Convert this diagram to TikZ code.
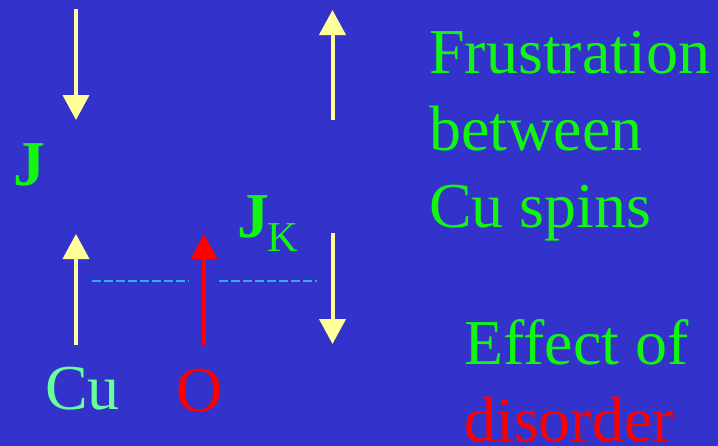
\documentclass[tikz,border=0pt]{standalone}
\usepackage{fontspec}
\setmainfont{Liberation Serif}
\usetikzlibrary{arrows.meta}
\definecolor{slideblue}{RGB}{51,51,204}
\definecolor{labelgreen}{RGB}{17,245,17}
\definecolor{cugreen}{RGB}{102,255,153}
\definecolor{spinyellow}{RGB}{255,255,153}
\definecolor{bondcyan}{RGB}{51,170,238}

\begin{document}
\begin{tikzpicture}[x=0.75pt,y=-0.75pt, line join=round,
  spin/.style={line width=3pt,spinyellow,-{Triangle[width=19.5pt,length=18.75pt]}},
  bond/.style={line width=1.5pt,bondcyan,dash pattern=on 6.75pt off 2.25pt},
  big/.style={anchor=base west,inner sep=0pt,font=\fontsize{48}{57.75}\selectfont}]
% slide background
\useasboundingbox (0,0) rectangle (718,446);
\fill[slideblue] (0,0) rectangle (718,446);
% spin sites
\coordinate (cuA) at (76,345);
\coordinate (cuB) at (332.5,233);
\coordinate (ox)  at (204,345);
\coordinate (cuC) at (76,9);
\coordinate (cuD) at (332.5,120);
% upper pair of Cu spins
\draw[spin] (cuC) -- ++(0,111);
\draw[spin] (cuD) -- ++(0,-110);
% lower Cu - O - Cu chain
\draw[spin] (cuA) -- ++(0,-111);
\draw[spin,red] (ox) -- ++(0,-111);
\draw[spin] (cuB) -- ++(0,111);
\coordinate (bA) at (92,281);
\coordinate (bB) at (189,281);
\coordinate (bC) at (219,281);
\coordinate (bD) at (317,281);
\draw[bond] (bA) -- (bB);
\draw[bond] (bC) -- (bD);
% couplings and atoms
\node[big,labelgreen] (jnode) at (13,185) {\textbf{J}};
\node[big,labelgreen] (jk) at (237,237) {\textbf{J}\kern-1pt\raisebox{-10.5pt}{\fontsize{32}{32}\selectfont K}};
\node[big,cugreen] (cu) at (45,409) {Cu};
\node[big,red] (o) at (176,411) {O};
% remarks
\node[big,labelgreen,align=left] (frus) at (429,227) {Frustration\\between\\Cu spins};
\node[big,labelgreen] (eff) at (464,364) {Effect of};
\node[big,red] (dis) at (464,441) {disorder};
\end{tikzpicture}
\end{document}
